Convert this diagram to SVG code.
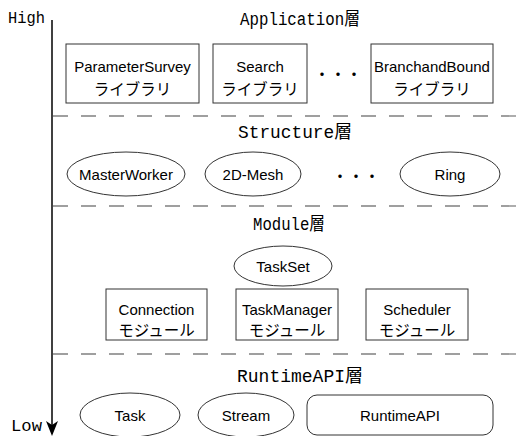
<svg xmlns="http://www.w3.org/2000/svg" width="519" height="436" viewBox="0 0 519 436">
<defs>
<style>
.bg{fill:#fff}
.node{fill:#fff;stroke:#333;stroke-width:1}
.dash{stroke:#808080;stroke-width:1.3;stroke-dasharray:15 13;fill:none}
.axis{stroke:#000;stroke-width:1.5;fill:none}
.head{font-family:"Liberation Mono","Noto Sans CJK JP",monospace;font-size:18px;fill:#000;text-anchor:middle}
.lbl{font-family:"Liberation Sans","Noto Sans CJK JP",sans-serif;font-size:15px;fill:#000;text-anchor:middle}
.jp{font-family:"Noto Sans CJK JP",sans-serif;font-size:15.5px;fill:#000;text-anchor:middle}
.side{font-family:"Liberation Mono",monospace;font-size:17px;fill:#000}
.dots{font-family:"Noto Sans CJK JP",sans-serif;font-size:16px;fill:#000}
</style>
</defs>
<rect class="bg" x="0" y="0" width="519" height="436"/>

<g id="connectors">
<line class="axis" x1="52" y1="20" x2="52" y2="428"/>
<path d="M46,421 L52,425 L58,421 L52,436 Z" fill="#000"/>
<line class="dash" x1="53" y1="116" x2="519" y2="116"/>
<line class="dash" x1="53" y1="206" x2="519" y2="206"/>
<line class="dash" x1="53" y1="354" x2="519" y2="354"/>
</g>

<g id="axis-labels">
<text class="side" x="8" y="23" textLength="37" lengthAdjust="spacingAndGlyphs">High</text>
<text class="side" x="11" y="431" textLength="31" lengthAdjust="spacingAndGlyphs">Low</text>
</g>

<g id="layer-headings">
<text class="head" x="300" y="25" textLength="120" lengthAdjust="spacingAndGlyphs">Application層</text>
<text class="head" x="295" y="138" textLength="114" lengthAdjust="spacingAndGlyphs">Structure層</text>
<text class="head" x="289" y="230" textLength="72" lengthAdjust="spacingAndGlyphs">Module層</text>
<text class="head" x="300" y="382" textLength="126" lengthAdjust="spacingAndGlyphs">RuntimeAPI層</text>
</g>

<g id="parametersurvey">
<rect class="node" x="66" y="44" width="133" height="59"/>
<text class="lbl" x="132.5" y="72">ParameterSurvey</text>
<text class="jp" x="132.5" y="95">ライブラリ</text>
</g>
<g id="search">
<rect class="node" x="213" y="44" width="94" height="59"/>
<text class="lbl" x="260" y="72">Search</text>
<text class="jp" x="260" y="95">ライブラリ</text>
</g>
<text class="dots" x="314" y="80">・・・</text>
<g id="branchandbound">
<rect class="node" x="371" y="44" width="122" height="59"/>
<text class="lbl" x="432" y="72">BranchandBound</text>
<text class="jp" x="432" y="95">ライブラリ</text>
</g>

<g id="masterworker">
<ellipse class="node" cx="126" cy="174" rx="59" ry="22"/>
<text class="lbl" x="126" y="180">MasterWorker</text>
</g>
<g id="mesh2d">
<ellipse class="node" cx="253" cy="174" rx="48" ry="22"/>
<text class="lbl" x="253" y="180">2D-Mesh</text>
</g>
<text class="dots" x="332" y="182">・・・</text>
<g id="ring">
<ellipse class="node" cx="450" cy="174" rx="50" ry="22"/>
<text class="lbl" x="450" y="180">Ring</text>
</g>

<g id="taskset">
<ellipse class="node" cx="283" cy="266" rx="49" ry="20"/>
<text class="lbl" x="283" y="272">TaskSet</text>
</g>
<g id="connection">
<rect class="node" x="106" y="289" width="101" height="51"/>
<text class="lbl" x="156.5" y="315">Connection</text>
<text class="jp" x="156.5" y="336">モジュール</text>
</g>
<g id="taskmanager">
<rect class="node" x="236" y="289" width="102" height="51"/>
<text class="lbl" x="287" y="315">TaskManager</text>
<text class="jp" x="287" y="336">モジュール</text>
</g>
<g id="scheduler">
<rect class="node" x="366" y="289" width="102" height="51"/>
<text class="lbl" x="417" y="315">Scheduler</text>
<text class="jp" x="417" y="336">モジュール</text>
</g>

<g id="task">
<ellipse class="node" cx="130" cy="415" rx="50" ry="22"/>
<text class="lbl" x="130" y="421">Task</text>
</g>
<g id="stream">
<ellipse class="node" cx="246" cy="415" rx="48" ry="22"/>
<text class="lbl" x="246" y="421">Stream</text>
</g>
<g id="runtimeapi">
<rect class="node" x="307" y="395" width="186" height="40" rx="10"/>
<text class="lbl" x="400" y="421">RuntimeAPI</text>
</g>
</svg>
